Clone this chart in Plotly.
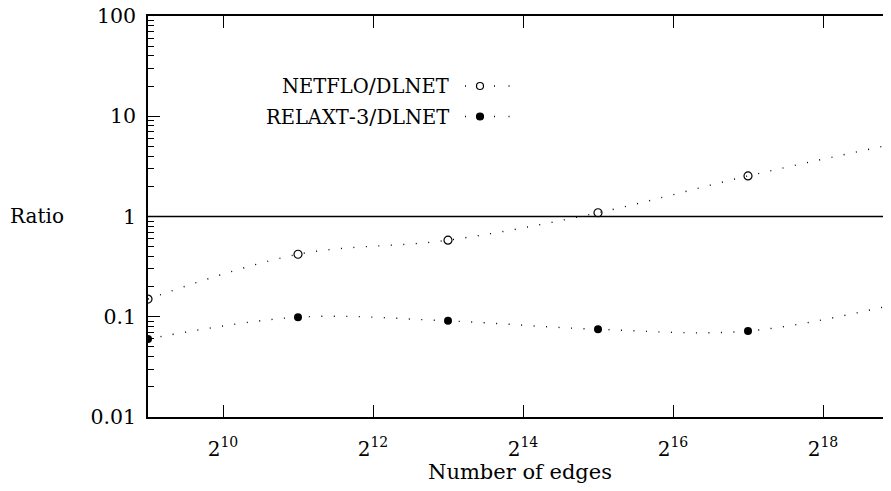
import math
import plotly.graph_objects as go

# ---- data ----
edges = [2**9, 2**11, 2**13, 2**15, 2**17, 2**19]
netflo_ratio = [0.150, 0.42, 0.58, 1.09, 2.54, 5.4]
relaxt_ratio = [0.060, 0.099, 0.091, 0.075, 0.072, 0.135]
x_tick_exps = [10, 12, 14, 16, 18]
y_tick_vals = [0.01, 0.1, 1, 10, 100]
y_tick_text = ["0.01", "0.1", "1", "10", "100"]

FONT = "DejaVu Serif"
OFF = 8                      # default page body margin
W, H = 891 - OFF, 491 - 2 * OFF
# plot area in page pixels
PX0, PX1, PY0, PY1 = 148, 891, 16, 417
ML, MR, MT, MB = PX0 - OFF, 0, PY0 - OFF, (OFF + H) - PY1

fig = go.Figure()
dot_line = dict(color="black", width=1.4, dash="1px,11.5px", shape="spline", smoothing=1.0)

fig.add_trace(go.Scatter(
    x=edges, y=netflo_ratio, mode="lines+markers", line=dot_line,
    marker=dict(symbol="circle-open", size=8, color="black", line=dict(width=1.2)),
    showlegend=False, cliponaxis=True))
fig.add_trace(go.Scatter(
    x=edges, y=relaxt_ratio, mode="lines+markers", line=dot_line,
    marker=dict(symbol="circle", size=8, color="black"),
    showlegend=False, cliponaxis=True))

x_lo = 9 * math.log10(2)
x_hi = (9 + (PX1 - PX0) / 75.0) * math.log10(2)

minor_vals = [m * 10**e for e in range(-2, 2) for m in range(2, 10)]

fig.update_layout(
    width=W, height=H,
    margin=dict(l=ML, r=MR, t=MT, b=MB, pad=0, autoexpand=False),
    paper_bgcolor="white", plot_bgcolor="white",
    font=dict(family=FONT, size=20, color="black"),
    xaxis=dict(
        type="log", range=[x_lo, x_hi],
        tickvals=[2**e for e in x_tick_exps],
        ticktext=[f"2<sup>{e}</sup>" for e in x_tick_exps],
        ticks="inside", ticklen=12, tickwidth=1.3, tickcolor="black",
        showline=True, linecolor="black", linewidth=1.5, mirror="ticks",
        showgrid=False, zeroline=False, ticklabelstandoff=13,
        ticklabeloverflow="allow",
        tickfont=dict(family=FONT, size=20),
    ),
    yaxis=dict(
        type="log", range=[-2, 2],
        tickvals=y_tick_vals, ticktext=y_tick_text,
        ticks="inside", ticklen=12, tickwidth=1.3, tickcolor="black",
        minor=dict(tickvals=minor_vals, ticks="inside", ticklen=6, tickwidth=1.1, tickcolor="black"),
        showline=True, linecolor="black", linewidth=1.5, mirror=False,
        showgrid=False, zeroline=False, ticklabelstandoff=6,
        ticklabeloverflow="allow",
        tickfont=dict(family=FONT, size=20.5),
    ),
    # right-hand tick marks only (the right border itself lies just past the window)
    yaxis2=dict(
        type="log", range=[-2, 2], overlaying="y", side="right",
        tickvals=y_tick_vals, showticklabels=False,
        ticks="inside", ticklen=6, tickwidth=1.3, tickcolor="black",
        showline=False, showgrid=False, zeroline=False,
    ),
)

# invisible trace to activate the right tick axis
fig.add_trace(go.Scatter(x=[edges[0]], y=[relaxt_ratio[0]], yaxis="y2",
                         mode="markers", marker=dict(opacity=0), showlegend=False,
                         hoverinfo="skip"))

# reference line at ratio 1
fig.add_shape(type="line", xref="paper", yref="y", x0=0, x1=1, y0=1, y1=1,
              line=dict(color="black", width=1.5))

pw = PX1 - PX0
ph = PY1 - PY0
def px_x(p):
    return (p - PX0) / pw
def px_y(p):
    return (PY1 - p) / ph

# axis titles
fig.add_annotation(text="Ratio", xref="paper", yref="paper",
                   x=px_x(8), y=px_y(216), xanchor="left", yanchor="middle",
                   showarrow=False, font=dict(family=FONT, size=20))
fig.add_annotation(text="Number of edges", xref="paper", yref="paper",
                   x=px_x(520), y=px_y(472), xanchor="center", yanchor="middle",
                   showarrow=False, font=dict(family=FONT, size=21))

# legend (text on left, sample on right)
def sc(s):
    return f'<span style="font-size:19.5px">{s}</span>'

legend_rows = [
    (sc("NETFLO") + "/" + sc("DLNET"), 86, "open"),
    (sc("RELAXT") + "-3/" + sc("DLNET"), 116.5, "filled"),
]
for text, ypx, kind in legend_rows:
    fig.add_annotation(text=text, xref="paper", yref="paper",
                       x=px_x(451), y=px_y(ypx), xanchor="right", yanchor="middle",
                       showarrow=False, font=dict(family=FONT, size=21))
    fig.add_shape(type="line", xref="paper", yref="paper",
                  x0=px_x(465), x1=px_x(513), y0=px_y(ypx), y1=px_y(ypx),
                  line=dict(color="black", width=1.4, dash="1px,13.5px"))
    fig.add_shape(type="circle", xref="paper", yref="paper",
                  xsizemode="pixel", ysizemode="pixel",
                  xanchor=px_x(480), yanchor=px_y(ypx),
                  x0=-3.5, x1=3.5, y0=-3.5, y1=3.5,
                  line=dict(color="black", width=1.2),
                  fillcolor="white" if kind == "open" else "black")

fig.write_html("out.html")
